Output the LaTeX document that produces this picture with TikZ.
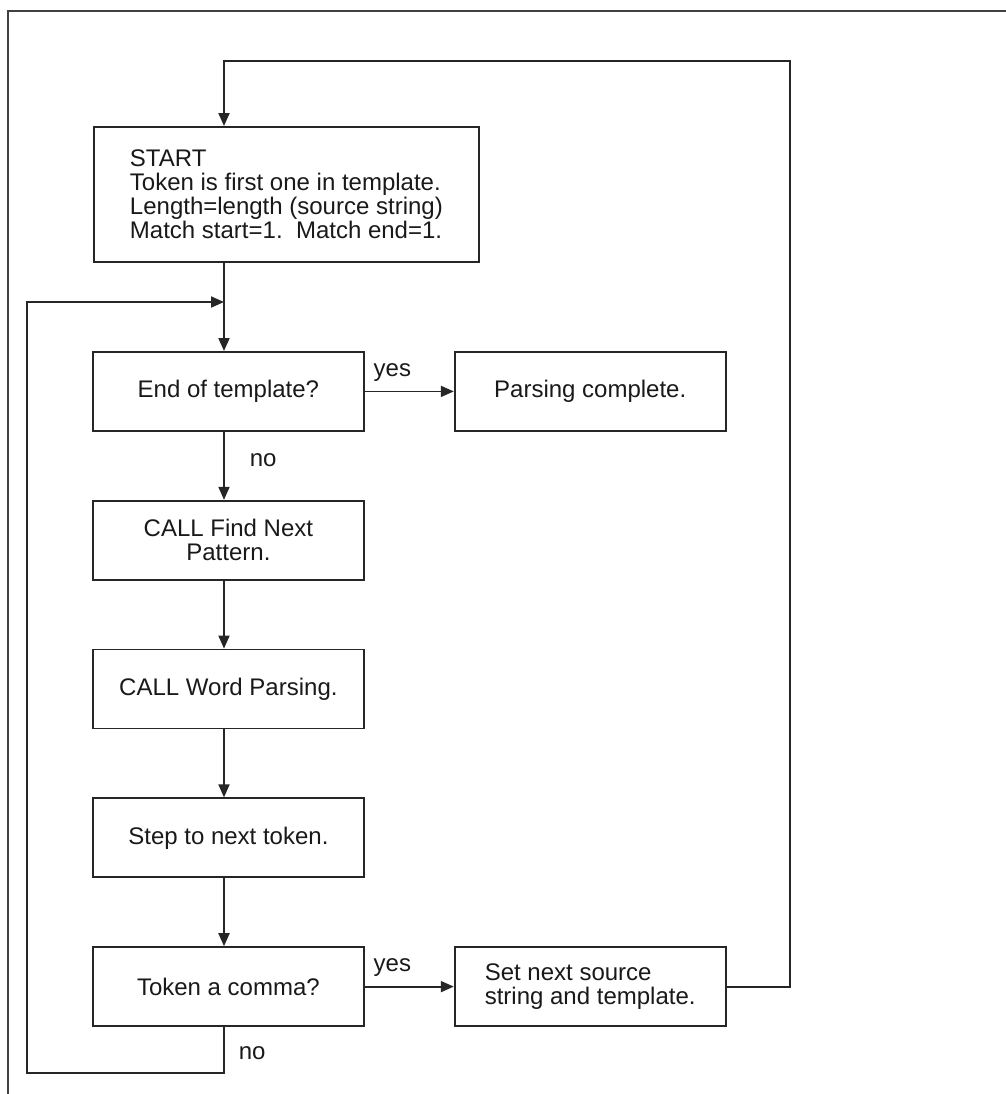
\documentclass[tikz,border=0pt]{standalone}
\usepackage{fontspec}
\setmainfont{Liberation Sans}
\usetikzlibrary{arrows.meta,positioning}

\begin{document}
\begin{tikzpicture}[
      x=0.5pt, y=-0.5pt,
      node distance=34pt and 44.5pt,
      box/.style={rectangle, draw=black!85, line width=0.9pt, align=center,
                  inner sep=0pt, minimum width=135.5pt, minimum height=39.5pt,
                  text=black!90, font=\fontsize{12}{12}\selectfont},
      lbl/.style={inner sep=0pt, text=black!90, font=\fontsize{12}{12}\selectfont},
      arr/.style={-{Triangle[length=6.5pt,width=5.5pt]}, line width=0.9pt, draw=black!85}
    ]
    \useasboundingbox (0,0) rectangle (1006,1094);
    \draw[line width=0.8pt, black!75] (8,1094) -- (8,11) -- (1006,11);
    \node[box, anchor=north west, minimum width=192.5pt, minimum height=67.5pt,
          align=left] (start) at (93,126)
          {START\\Token is first one in template.\\Length=length (source string)\\Match start=1.\ \ Match end=1.};
    \node[box, anchor=north west] (eot) at (92,351) {End of template?};
    \node[box, right=of eot] (done) {Parsing complete.};
    \node[box, below=of eot] (find) {CALL Find Next\\Pattern.};
    \node[box, below=of find] (word) {CALL Word Parsing.};
    \node[box, below=of word] (next) {Step to next token.};
    \node[box, below=of next] (comma) {Token a comma?};
    \node[box, right=of comma, align=left] (reset) {Set next source\\string and template.};
    \coordinate (join) at (224,302);
    \coordinate (ret) at (790,61);
    \coordinate (back) at (27,1073);
    \draw[arr] (reset.east) -| (ret) -| (start.north -| join);
    \draw[arr] (start.south -| join) -- (eot.north -| join);
    \draw[arr] (eot) -- node[lbl, pos=0, anchor=base west, xshift=4pt, yshift=7.5pt] {yes} (done);
    \draw[arr] (eot.south -| join) -- node[lbl, pos=0, anchor=base west, xshift=12.5pt, yshift=-17.5pt] {no} (find.north -| join);
    \draw[arr] (find.south -| join) -- (word.north -| join);
    \draw[arr] (word.south -| join) -- (next.north -| join);
    \draw[arr] (next.south -| join) -- (comma.north -| join);
    \draw[arr] (comma) -- node[lbl, pos=0, anchor=base west, xshift=4pt, yshift=7.5pt] {yes} (reset);
    \draw[arr] (comma.south -| join) |- node[lbl, pos=0, anchor=base west, xshift=7pt, yshift=-16pt] {no} (back) |- (join);
  \end{tikzpicture}
\end{document}
